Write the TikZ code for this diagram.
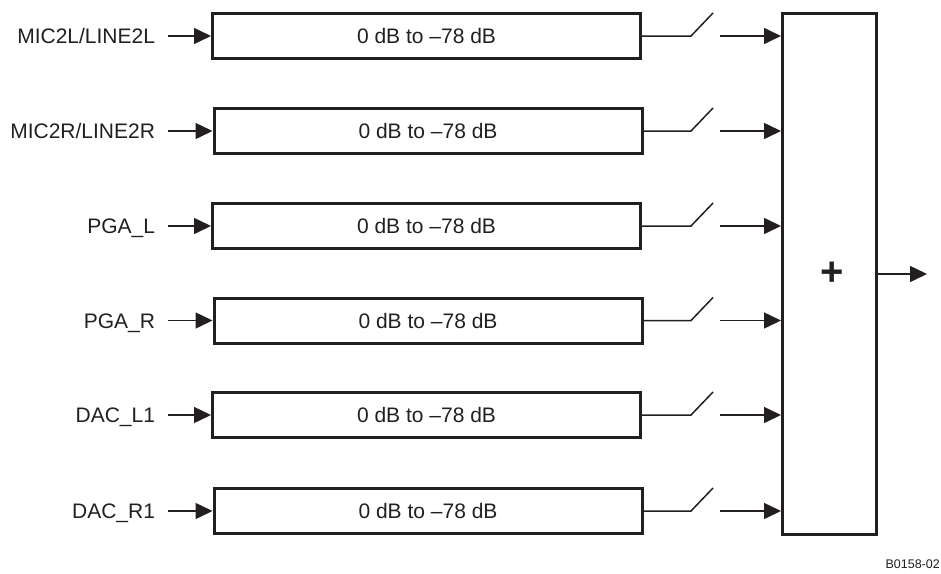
\documentclass[tikz,border=0pt]{standalone}
\usepackage{fontspec}
\setmainfont{Liberation Sans}
\usetikzlibrary{arrows.meta}
\definecolor{ink}{RGB}{35,31,32}
\begin{document}
\begin{tikzpicture}[x=1pt,y=-1pt,
  every node/.style={text=ink},
  thin line/.style={draw=ink,line width=1.5pt},
  arr/.style={thin line,-{Triangle[length=17pt,width=16pt]}},
  gainbox/.style={draw=ink,line width=3pt,minimum width=428pt,minimum height=45pt,
    inner sep=0pt,font=\fontsize{21}{21}\selectfont,text height=15pt,text depth=0pt},
  sumbox/.style={draw=ink,line width=3pt,minimum width=94pt,minimum height=521pt,inner sep=0pt},
  inlab/.style={anchor=east,inner sep=0pt,outer xsep=13pt,font=\fontsize{21}{21}\selectfont,
    text height=15pt,text depth=0pt}]
\useasboundingbox (0,0) rectangle (941,573);

\node[sumbox] (sum) at (829.5,274) {};
\node[anchor=base,inner sep=0pt,font=\fontsize{40}{40}\selectfont\bfseries] (plus) at (832,285.5) {+};
\coordinate (out) at (927,274);
\draw[arr] (sum.east) -- (out);

\foreach \i/\y/\cx/\lab in {1/36/426.5/MIC2L\slash LINE2L, 2/131/428/MIC2R\slash LINE2R, 3/226/426.5/PGA\_L,
    4/320.5/428/PGA\_R, 5/415/426.5/DAC\_L1, 6/511/428/DAC\_R1}{
  \node[gainbox] (g\i) at (\cx,\y) {0 dB to –78 dB};
  \node[inlab] (in\i) at (168,\y) {\lab};
  \draw[arr] (in\i.east) -- (g\i.west);
  \coordinate (sa\i) at (691,\y);
  \coordinate (sb\i) at (713,\y-23);
  \coordinate (sc\i) at (720,\y);
  \draw[thin line] (g\i.east) -- (sa\i) -- (sb\i);
  \draw[arr] (sc\i) -- (sc\i -| sum.west);
}

\node[anchor=base east,inner sep=0pt,font=\fontsize{12.5}{12.5}\selectfont] (code) at (940,568) {B0158-02};
\end{tikzpicture}
\end{document}
